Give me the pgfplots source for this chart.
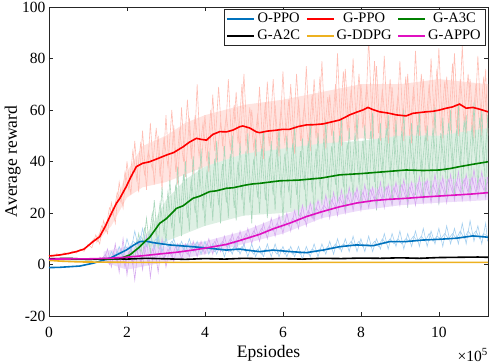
\documentclass[border=0pt]{standalone}
\usepackage{fontspec}
\setmainfont{Liberation Serif}
\usepackage{pgfplots}
\pgfplotsset{compat=1.18}
\definecolor{cBlue}{RGB}{0,114,189}
\definecolor{cRed}{RGB}{255,0,0}
\definecolor{cGreen}{RGB}{0,128,0}
\definecolor{cOrange}{RGB}{237,177,32}
\definecolor{cMag}{RGB}{224,16,192}
\definecolor{nRed}{RGB}{255,190,180}
\definecolor{nGreen}{RGB}{170,215,188}
\definecolor{nMag}{RGB}{214,170,240}
\definecolor{nBlue}{RGB}{165,208,240}
\definecolor{fRed}{RGB}{255,228,224}
\definecolor{fGreen}{RGB}{222,240,228}
\definecolor{fMag}{RGB}{238,222,250}
\begin{document}
\begin{tikzpicture}
\begin{axis}[
  scale only axis, width=439bp, height=309bp,
  xmin=0, xmax=11.26, ymin=-20, ymax=100,
  xtick={0,2,4,6,8,10}, xticklabels={0,2,4,6,8,10},
  ytick={-20,0,20,40,60,80,100}, yticklabels={-20,0,20,40,60,80,100},
  tick align=inside, major tick length=4.4bp,
  tick style={black!85, line width=0.5bp},
  axis line style={black!85, line width=0.6bp},
  ticklabel style={font=\fontsize{15.6}{18}\selectfont},
  xticklabel style={yshift=-8bp},
  xlabel={Epsiodes}, ylabel={Average reward},
  label style={font=\fontsize{17.6}{20}\selectfont},
  xlabel style={at={(axis description cs:0.5,0)}, anchor=base, yshift=-41bp},
  ylabel style={at={(axis description cs:-0.083,0.5)}, anchor=center},
  legend columns=3,
  legend style={at={(1,1)}, anchor=north east, xshift=-3bp, yshift=-2bp,
    font=\fontsize{14.6}{16}\selectfont, draw=black!85, line width=0.5bp,
    inner sep=2bp, row sep=2bp, /tikz/every even column/.append style={column sep=4bp}},
  legend image code/.code={\draw[#1] (0bp,0bp) -- (27bp,0bp);},
]
% ---------- light envelopes of the raw traces ----------
\addplot[fill=fRed, draw=none, forget plot] coordinates {
(1.2,10)(1.6,20)(2.0,36)(2.4,46)(3,50)(3.5,55)(4,58)(5,62)(6,64)(7,67)(8,70)(9,70)(10,72)(11.26,70)
(11.26,50)(10,50)(9,48)(8,49)(7,46)(6,44)(5,43)(4,38)(3,32)(2.4,30)(2,26)(1.6,15)(1.2,8)
};
\addplot[fill=fGreen, draw=none, forget plot] coordinates {
(2.2,6)(2.6,14)(3,25)(3.5,33)(4,38)(5,43)(6,45)(7,47)(8,48)(9,50)(10,50)(11.26,53)
(11.26,28)(10,26)(9,25)(8,24)(7,22)(6,20)(5,19)(4,15)(3,9)(2.6,5)(2.2,3)
};
\addplot[fill=fMag, draw=none, forget plot] coordinates {
(1.4,5)(2,7)(3,7)(4,9)(5,13)(6,19)(7,25)(8,29)(9,31)(10,33)(11.26,34)
(11.26,25)(10,24)(9,23)(8,21)(7,18)(6,12)(5,8)(4,4)(3,1)(2,-2)(1.4,1)
};
% ---------- noisy raw traces ----------
\addplot[nRed, line width=0.6bp, forget plot] coordinates {
(0.0,3.5)(0.1,3.0)(0.2,4.2)(0.3,3.4)(0.4,4.6)(0.5,3.9)(0.6,5.2)(0.7,4.4)(0.8,6.0)(0.9,5.1)
(1.0,7.8)(1.1,6.5)(1.2,11.5)(1.3,8.0)(1.4,17)(1.5,12)(1.6,24)(1.7,16)(1.8,32)(1.9,22)
(2.0,40)(2.1,27)(2.2,48)(2.3,28)(2.4,52)(2.5,29)(2.6,55)(2.7,31)(2.8,50)(2.9,29)
(3.0,58)(3.1,32)(3.2,54)(3.3,31)(3.4,61)(3.5,34)(3.6,57)(3.7,35)(3.8,70)(3.9,37)
(4.0,58)(4.1,36)(4.2,66)(4.3,40)(4.4,55)(4.5,42)(4.6,72)(4.7,43)(4.8,67)(4.9,44)
(5.0,74)(5.1,43)(5.2,60)(5.3,42)(5.4,69)(5.5,41)(5.6,71)(5.7,44)(5.8,62)(5.9,42)
(6.0,75)(6.1,44)(6.2,70)(6.3,43)(6.4,64)(6.5,45)(6.6,77)(6.7,44)(6.8,72)(6.9,46)
(7.0,79)(7.1,45)(7.2,66)(7.3,47)(7.4,82)(7.5,46)(7.6,76)(7.7,49)(7.8,80)(7.9,48)
(8.0,70)(8.1,50)(8.2,88)(8.3,49)(8.4,77)(8.5,48)(8.6,81)(8.7,47)(8.8,69)(8.9,49)
(9.0,79)(9.1,48)(9.2,74)(9.3,47)(9.4,83)(9.5,50)(9.6,72)(9.7,48)(9.8,80)(9.9,51)
(10.0,84)(10.1,49)(10.2,73)(10.3,52)(10.4,82)(10.5,50)(10.6,85)(10.7,51)(10.8,72)(10.9,49)
(11.0,81)(11.1,50)(11.2,76)(11.25,51)
};
\addplot[nRed, line width=0.6bp, forget plot] coordinates {
(1.05,8)(1.15,10)(1.25,9)(1.35,15)(1.45,13)(1.55,22)(1.65,19)(1.75,28)(1.85,24)(1.95,36)
(2.05,29)(2.15,44)(2.25,33)(2.35,47)(2.45,35)(2.55,44)(2.65,37)(2.75,53)(2.85,34)(2.95,49)
(3.05,38)(3.15,60)(3.25,36)(3.35,52)(3.45,40)(3.55,64)(3.65,41)(3.75,58)(3.85,42)(3.95,55)
(4.05,40)(4.15,60)(4.25,44)(4.35,69)(4.45,46)(4.55,58)(4.65,45)(4.75,62)(4.85,47)(4.95,70)
(5.05,46)(5.15,61)(5.25,45)(5.35,58)(5.45,44)(5.55,63)(5.65,46)(5.75,72)(5.85,45)(5.95,60)
(6.05,47)(6.15,64)(6.25,46)(6.35,74)(6.45,48)(6.55,62)(6.65,47)(6.75,66)(6.85,49)(6.95,73)
(7.05,48)(7.15,65)(7.25,50)(7.35,70)(7.45,49)(7.55,75)(7.65,52)(7.75,68)(7.85,51)(7.95,74)
(8.05,53)(8.15,70)(8.25,52)(8.35,79)(8.45,51)(8.55,68)(8.65,52)(8.75,72)(8.85,50)(8.95,66)
(9.05,51)(9.15,73)(9.25,50)(9.35,69)(9.45,52)(9.55,74)(9.65,51)(9.75,70)(9.85,53)(9.95,76)
(10.05,52)(10.15,71)(10.25,54)(10.35,78)(10.45,53)(10.55,72)(10.65,55)(10.75,74)(10.85,52)(10.95,70)
(11.05,53)(11.15,73)(11.25,52)
};
\addplot[nGreen, line width=0.6bp, forget plot] coordinates {
(2.0,3)(2.1,6)(2.2,2)(2.3,12)(2.4,3)(2.5,18)(2.6,4)(2.7,25)(2.8,6)(2.9,30)
(3.0,8)(3.1,33)(3.2,10)(3.3,38)(3.4,11)(3.5,40)(3.6,13)(3.7,42)(3.8,14)(3.9,45)
(4.0,15)(4.1,44)(4.2,17)(4.3,48)(4.4,16)(4.5,46)(4.6,18)(4.7,50)(4.8,17)(4.9,47)
(5.0,19)(5.1,51)(5.2,16)(5.3,49)(5.4,20)(5.5,52)(5.6,18)(5.7,48)(5.8,21)(5.9,53)
(6.0,17)(6.1,50)(6.2,22)(6.3,54)(6.4,19)(6.5,49)(6.6,21)(6.7,55)(6.8,18)(6.9,51)
(7.0,23)(7.1,56)(7.2,20)(7.3,52)(7.4,24)(7.5,57)(7.6,21)(7.7,53)(7.8,25)(7.9,58)
(8.0,22)(8.1,54)(8.2,24)(8.3,59)(8.4,21)(8.5,55)(8.6,26)(8.7,58)(8.8,23)(8.9,56)
(9.0,25)(9.1,60)(9.2,22)(9.3,55)(9.4,27)(9.5,59)(9.6,24)(9.7,54)(9.8,26)(9.9,61)
(10.0,23)(10.1,57)(10.2,27)(10.3,60)(10.4,25)(10.5,62)(10.6,28)(10.7,58)(10.8,26)(10.9,63)
(11.0,29)(11.1,60)(11.2,27)(11.25,58)
};
\addplot[nGreen, line width=0.6bp, forget plot] coordinates {
(2.05,5)(2.15,3)(2.25,9)(2.35,5)(2.45,14)(2.55,8)(2.65,20)(2.75,11)(2.85,24)(2.95,12)
(3.05,28)(3.15,14)(3.25,31)(3.35,16)(3.45,35)(3.55,18)(3.65,33)(3.75,20)(3.85,38)(3.95,21)
(4.05,36)(4.15,22)(4.25,41)(4.35,23)(4.45,39)(4.55,24)(4.65,43)(4.75,22)(4.85,40)(4.95,25)
(5.05,44)(5.15,24)(5.25,41)(5.35,26)(5.45,45)(5.55,25)(5.65,42)(5.75,27)(5.85,46)(5.95,26)
(6.05,43)(6.15,28)(6.25,47)(6.35,27)(6.45,44)(6.55,29)(6.65,48)(6.75,28)(6.85,45)(6.95,30)
(7.05,49)(7.15,29)(7.25,46)(7.35,31)(7.45,50)(7.55,30)(7.65,47)(7.75,32)(7.85,51)(7.95,31)
(8.05,48)(8.15,33)(8.25,52)(8.35,32)(8.45,49)(8.55,34)(8.65,53)(8.75,33)(8.85,50)(8.95,34)
(9.05,52)(9.15,33)(9.25,49)(9.35,35)(9.45,54)(9.55,34)(9.65,50)(9.75,36)(9.85,53)(9.95,35)
(10.05,51)(10.15,36)(10.25,55)(10.35,37)(10.45,52)(10.55,38)(10.65,56)(10.75,37)(10.85,54)(10.95,39)
(11.05,57)(11.15,38)(11.25,55)
};
\addplot[nMag, line width=0.6bp, forget plot] coordinates {
(1.3,3)(1.4,1)(1.5,6)(1.6,-1)(1.7,8)(1.8,-3)(1.9,10)(2.0,-4)(2.1,7)(2.2,-6)
(2.3,9)(2.4,-2)(2.5,11)(2.6,-5)(2.7,8)(2.8,-3)(2.9,10)(3.0,-1)(3.1,7)(3.2,1)
(3.3,8)(3.4,2)(3.5,8)(3.6,3)(3.7,9)(3.8,3)(3.9,9)(4.0,4)(4.1,10)(4.2,4)
(4.3,10)(4.4,5)(4.5,11)(4.6,5)(4.7,12)(4.8,6)(4.9,13)(5.0,7)(5.1,14)(5.2,8)
(5.3,15)(5.4,9)(5.5,16)(5.6,10)(5.7,18)(5.8,11)(5.9,19)(6.0,12)(6.1,20)(6.2,13)
(6.3,21)(6.4,14)(6.5,23)(6.6,15)(6.7,24)(6.8,17)(6.9,25)(7.0,18)(7.1,27)(7.2,18)
(7.3,28)(7.4,19)(7.5,29)(7.6,20)(7.7,30)(7.8,21)(7.9,30)(8.0,21)(8.1,31)(8.2,22)
(8.3,30)(8.4,22)(8.5,32)(8.6,22)(8.7,31)(8.8,23)(8.9,32)(9.0,23)(9.1,33)(9.2,23)
(9.3,32)(9.4,23)(9.5,34)(9.6,24)(9.7,33)(9.8,24)(9.9,35)(10.0,24)(10.1,34)(10.2,24)
(10.3,35)(10.4,25)(10.5,36)(10.6,25)(10.7,35)(10.8,25)(10.9,37)(11.0,26)(11.1,36)(11.2,26)
(11.25,34)
};
\addplot[nMag, line width=0.6bp, forget plot] coordinates {
(1.35,2)(1.45,4)(1.55,0)(1.65,5)(1.75,1)(1.85,6)(1.95,-1)(2.05,5)(2.15,0)(2.25,6)
(2.35,1)(2.45,7)(2.55,0)(2.65,6)(2.75,2)(2.85,7)(2.95,2)(3.05,6)(3.15,3)(3.25,7)
(3.35,4)(3.45,6)(3.55,4)(3.65,7)(3.75,5)(3.85,8)(3.95,5)(4.05,8)(4.15,6)(4.25,9)
(4.35,6)(4.45,9)(4.55,7)(4.65,10)(4.75,8)(4.85,11)(4.95,9)(5.05,12)(5.15,10)(5.25,13)
(5.35,11)(5.45,14)(5.55,12)(5.65,15)(5.75,13)(5.85,16)(5.95,14)(6.05,17)(6.15,15)(6.25,18)
(6.35,16)(6.45,20)(6.55,17)(6.65,21)(6.75,18)(6.85,22)(6.95,20)(7.05,23)(7.15,21)(7.25,25)
(7.35,22)(7.45,26)(7.55,23)(7.65,27)(7.75,23)(7.85,28)(7.95,24)(8.05,28)(8.15,24)(8.25,29)
(8.35,25)(8.45,29)(8.55,25)(8.65,30)(8.75,25)(8.85,30)(8.95,26)(9.05,31)(9.15,26)(9.25,30)
(9.35,26)(9.45,31)(9.55,26)(9.65,32)(9.75,27)(9.85,31)(9.95,27)(10.05,32)(10.15,27)(10.25,33)
(10.35,28)(10.45,32)(10.55,28)(10.65,33)(10.75,28)(10.85,34)(10.95,28)(11.05,33)(11.15,29)(11.25,32)
};
\addplot[nBlue, line width=0.6bp, forget plot] coordinates {
(1.4,3)(1.5,1)(1.6,5)(1.7,2)(1.8,7)(1.9,3)(2.0,10)(2.1,5)(2.2,13)(2.3,6)
(2.4,14)(2.5,7)(2.6,12)(2.7,6)(2.8,11)(2.9,5)(3.0,10)(3.1,6)(3.2,10)(3.3,5)
(3.4,9)(3.5,5)(3.6,10)(3.7,5)(3.8,9)(3.9,4)(4.0,9)(4.1,4)(4.2,8)(4.3,4)
(4.4,8)(4.5,3)(4.6,8)(4.7,4)(4.8,9)(4.9,4)(5.0,8)(5.1,3)(5.2,8)(5.3,3)
(5.4,7)(5.5,3)(5.6,8)(5.7,3)(5.8,8)(5.9,3)(6.0,7)(6.1,3)(6.2,7)(6.3,3)
(6.4,7)(6.5,2)(6.6,7)(6.7,3)(6.8,8)(6.9,3)(7.0,8)(7.1,4)(7.2,9)(7.3,4)
(7.4,10)(7.5,5)(7.6,10)(7.7,5)(7.8,11)(7.9,5)(8.0,10)(8.1,5)(8.2,11)(8.3,5)
(8.4,10)(8.5,6)(8.6,12)(8.7,6)(8.8,12)(8.9,7)(9.0,13)(9.1,6)(9.2,12)(9.3,7)
(9.4,13)(9.5,7)(9.6,14)(9.7,7)(9.8,13)(9.9,8)(10.0,14)(10.1,7)(10.2,15)(10.3,8)
(10.4,14)(10.5,8)(10.6,16)(10.7,8)(10.8,17)(10.9,9)(11.0,15)(11.1,8)(11.2,16)(11.25,9)
};
\addplot[nBlue, line width=0.6bp, forget plot] coordinates {
(1.45,2)(1.55,3)(1.65,2)(1.75,5)(1.85,4)(1.95,7)(2.05,6)(2.15,9)(2.25,8)(2.35,11)
(2.45,8)(2.55,10)(2.65,8)(2.75,10)(2.85,7)(2.95,9)(3.05,7)(3.15,9)(3.25,7)(3.35,8)
(3.45,6)(3.55,8)(3.65,6)(3.75,8)(3.85,6)(3.95,7)(4.05,6)(4.15,7)(4.25,5)(4.35,7)
(4.45,5)(4.55,6)(4.65,5)(4.75,7)(4.85,5)(4.95,7)(5.05,5)(5.15,6)(5.25,4)(5.35,6)
(5.45,4)(5.55,6)(5.65,5)(5.75,6)(5.85,4)(5.95,6)(6.05,4)(6.15,6)(6.25,4)(6.35,5)
(6.45,4)(6.55,5)(6.65,4)(6.75,6)(6.85,5)(6.95,6)(7.05,5)(7.15,7)(7.25,6)(7.35,8)
(7.45,6)(7.55,8)(7.65,7)(7.75,9)(7.85,7)(7.95,9)(8.05,7)(8.15,8)(8.25,7)(8.35,9)
(8.45,7)(8.55,10)(8.65,8)(8.75,10)(8.85,8)(8.95,10)(9.05,8)(9.15,10)(9.25,9)(9.35,11)
(9.45,9)(9.55,11)(9.65,9)(9.75,12)(9.85,9)(9.95,11)(10.05,10)(10.15,12)(10.25,10)(10.35,12)
(10.45,10)(10.55,13)(10.65,10)(10.75,13)(10.85,11)(10.95,13)(11.05,10)(11.15,12)(11.25,11)
};
% ---------- smoothed curves ----------
\addplot[cBlue, line width=1.6bp] coordinates {
(0,-1.2)(0.27,-1.1)(0.79,-0.6)(1.13,0.5)(1.56,2.4)(1.98,5.6)(2.2,7.8)(2.33,8.9)(2.5,9.0)
(2.67,8.5)(3.09,7.6)(3.69,6.9)(4.12,6.3)(4.55,5.6)(4.89,6.0)(5.06,5.6)(5.40,5.0)(5.74,5.6)
(6.2,5.0)(6.60,4.6)(7.03,5.6)(7.45,6.9)(7.88,7.6)(8.31,7.3)(8.74,8.9)(9.16,8.9)(9.59,9.5)
(10.02,9.8)(10.45,10.2)(10.87,11.1)(11.26,10.6)
};
\addlegendentry{O-PPO}
\addplot[cRed, line width=1.6bp] coordinates {
(0,3.3)(0.27,3.7)(0.5,4.3)(0.7,5.0)(0.9,6.0)(1.13,8.9)(1.3,10.8)(1.45,15)(1.56,18.6)
(1.73,23.8)(1.81,25.5)(1.98,30.2)(2.1,34)(2.24,38.0)(2.4,39.3)(2.58,39.9)(2.8,41.2)
(3.01,42.5)(3.2,43.5)(3.44,45.7)(3.6,47.5)(3.78,49.0)(3.9,48.6)(4.04,48.3)(4.2,50.5)
(4.38,51.6)(4.55,51.5)(4.72,52.2)(4.89,53.5)(4.97,53.8)(5.15,53)(5.32,51.5)(5.40,51.2)
(5.6,51.8)(5.8,52.1)(6.0,52.5)(6.17,52.5)(6.4,53.6)(6.60,54.2)(6.8,54.3)(7.03,54.6)
(7.2,55.2)(7.45,56.1)(7.6,57.2)(7.71,58.1)(7.9,59.2)(8.05,60.0)(8.18,61.0)(8.3,60.2)
(8.48,59.3)(8.7,58.8)(8.91,58.1)(9.16,57.7)(9.33,58.7)(9.5,59.0)(9.68,59.3)(9.85,59.5)
(10.02,60.0)(10.19,60.7)(10.35,61.2)(10.53,62.3)(10.70,60.7)(10.87,61.0)(11.05,60.3)(11.26,59.3)
};
\addlegendentry{G-PPO}
\addplot[cGreen, line width=1.6bp] coordinates {
(0,2.0)(1.0,2.0)(1.8,2.2)(2.07,3.7)(2.3,6.5)(2.5,9.5)(2.58,10.5)(2.84,16)(3.01,17.8)
(3.27,21.8)(3.44,22.8)(3.69,25.7)(3.86,26.5)(4.12,28.3)(4.29,28.6)(4.55,29.6)(4.72,29.8)
(5.06,30.9)(5.23,31.3)(5.40,31.5)(5.92,32.5)(6.43,32.8)(7.0,33.6)(7.45,34.8)(8.0,35.3)
(8.5,35.9)(9.16,36.7)(9.6,36.5)(10.02,36.7)(10.3,37.3)(10.53,38.0)(10.9,39.0)(11.26,39.9)
};
\addlegendentry{G-A3C}
\addplot[black, line width=1.6bp] coordinates {
(0,2.2)(0.5,2.4)(1,2.0)(1.5,2.3)(2,2.1)(2.5,2.4)(3,2.2)(3.5,2.0)(4,2.3)(4.5,2.1)(5,2.4)
(5.5,2.2)(6,2.3)(6.5,2.1)(7,2.4)(7.5,2.3)(8,2.5)(8.5,2.4)(9,2.6)(9.5,2.4)(10,2.7)
(10.5,2.8)(11,2.9)(11.26,2.8)
};
\addlegendentry{G-A2C}
\addplot[cOrange, line width=1.6bp] coordinates {
(0,1.6)(0.3,1.3)(0.8,1.0)(1.5,0.9)(2.5,0.8)(6,0.8)(11.26,0.8)
};
\addlegendentry{G-DDPG}
\addplot[cMag, line width=1.6bp] coordinates {
(0,2.1)(1.0,2.2)(1.5,2.4)(1.98,2.8)(2.4,3.4)(2.84,4.1)(3.3,4.8)(3.69,5.6)(4.1,6.6)
(4.55,7.8)(4.89,9.3)(5.40,11.7)(5.74,13.8)(6.2,16.2)(6.60,18.6)(7.0,20.5)(7.45,22.4)
(7.9,23.9)(8.31,24.8)(8.7,25.3)(9.16,25.7)(9.6,26.2)(10.02,26.6)(10.45,27.0)(10.87,27.4)(11.26,27.9)
};
\addlegendentry{G-APPO}
\end{axis}
\node[anchor=base east, inner sep=0pt, font=\fontsize{15.6}{18}\selectfont]
  at ([yshift=-45bp]current axis.south east) {×10\textsuperscript{5}};
\pgfresetboundingbox
\useasboundingbox ([xshift=-49bp,yshift=-48bp]current axis.south west) rectangle ([xshift=3bp,yshift=7bp]current axis.north east);
\end{tikzpicture}
\end{document}
